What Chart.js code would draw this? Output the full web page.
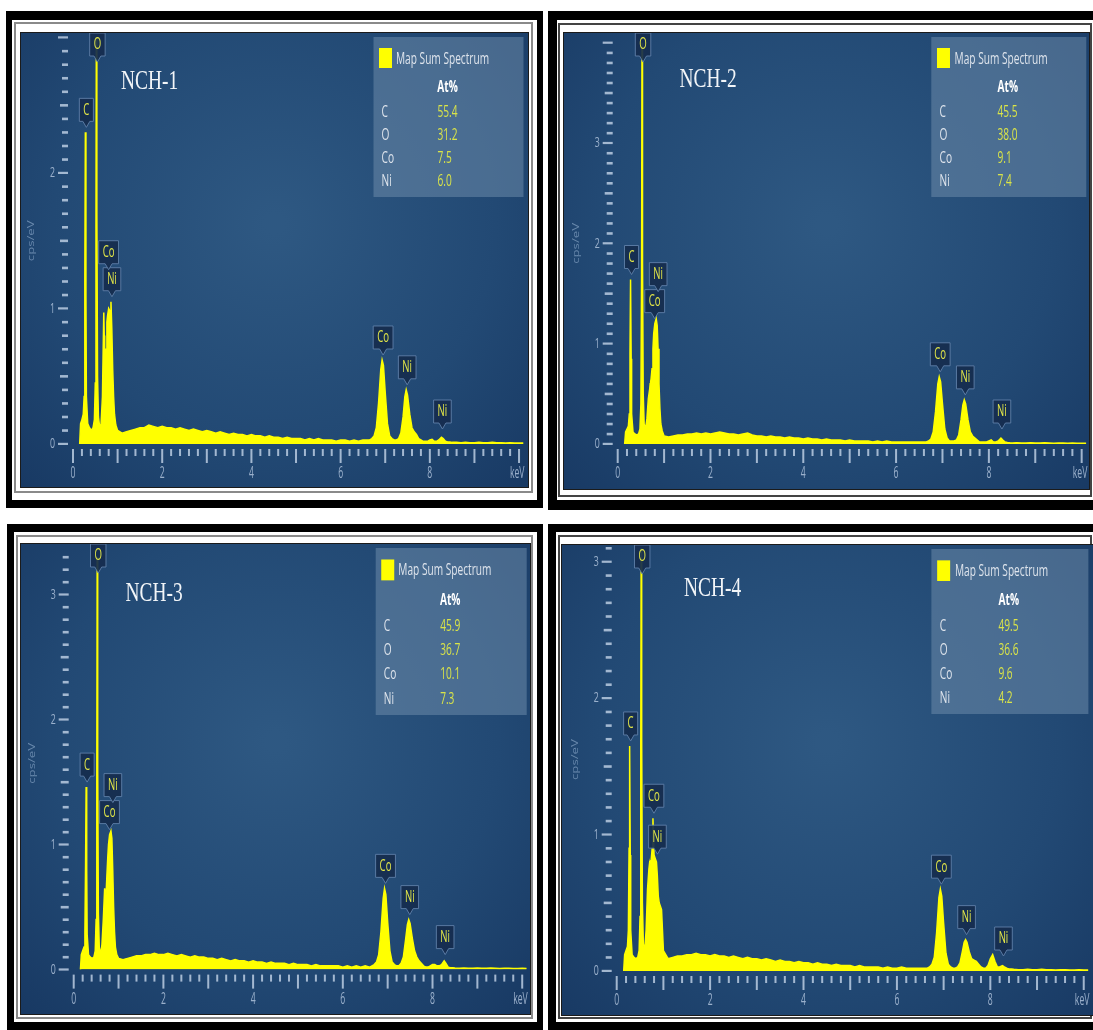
<!DOCTYPE html>
<html>
<head>
<meta charset="utf-8">
<script src="https://cdn.jsdelivr.net/npm/chart.js@4.4.1/dist/chart.umd.min.js"></script>
<style>
  html, body { margin: 0; padding: 0; background: #ffffff; }
  body { width: 1093px; height: 1030px; position: relative; overflow: hidden; }
  .blk { position: absolute; background: #000; }
  .wht { position: absolute; background: #fff; }
  .rule { position: absolute; box-sizing: border-box; border: 2px solid #8a8a8a; }
  .plot { position: absolute; outline: 1px solid #1b1b1b; }
  .plot canvas { display: block; }
</style>
</head>
<body>
<script>
// ---- EDS spectra: shared energy channels (keV) ----
const energyKeV = [
  0.15, 0.17, 0.20, 0.23, 0.25, 0.265, 0.277, 0.29, 0.30, 0.33, 0.37, 0.41, 0.45, 0.48, 0.50, 0.515, 0.525, 0.535, 0.55,
  0.57, 0.60, 0.63, 0.66, 0.69, 0.70, 0.71, 0.72, 0.74, 0.76, 0.776, 0.80, 0.83, 0.851, 0.87, 0.89, 0.91, 0.93, 0.96,
  1.0, 1.1, 1.2, 1.3, 1.4, 1.5, 1.6, 1.7, 1.8, 1.9,
  2.0, 2.1, 2.2, 2.3, 2.4, 2.5, 2.6, 2.7, 2.8, 2.9,
  3.0, 3.1, 3.2, 3.3, 3.4, 3.5, 3.6, 3.7, 3.8, 3.9,
  4.0, 4.1, 4.2, 4.3, 4.4, 4.5, 4.6, 4.7, 4.8, 4.9,
  5.0, 5.1, 5.2, 5.3, 5.4, 5.5, 5.6, 5.7, 5.8, 5.9,
  6.0, 6.1, 6.2, 6.3, 6.4, 6.5, 6.6,
  6.65, 6.70, 6.75, 6.80, 6.85, 6.90, 6.93, 6.96, 7.00, 7.05,
  7.10, 7.15, 7.20, 7.25, 7.30, 7.35, 7.40, 7.44, 7.47, 7.50,
  7.55, 7.60, 7.65, 7.70, 7.75, 7.80, 7.85, 7.90, 7.95, 8.00,
  8.05, 8.10, 8.15, 8.20, 8.26, 8.30, 8.35, 8.40, 8.45,
  8.5, 8.6, 8.7, 8.8, 8.9, 9.0, 9.1, 9.2, 9.3, 9.4, 9.5, 9.6, 9.7, 9.8, 9.9, 10.0, 10.1
];

// counts (cps/eV) per sample, same channel order as energyKeV
const countsNCH1 = [
  0, 0.15, 0.18, 0.22, 0.35, 1.2, 2.3, 1.1, 0.35, 0.15, 0.12, 0.10, 0.12, 0.18, 0.45, 1.6, 3.3, 1.7, 0.5,
  0.2, 0.12, 0.15, 0.35, 0.97, 0.8, 0.55, 0.45, 0.7, 0.9, 0.95, 1.0, 0.98, 1.05, 0.85, 0.55, 0.35, 0.22, 0.14,
  0.10, 0.08, 0.09, 0.10, 0.11, 0.12, 0.12, 0.14, 0.13, 0.12,
  0.13, 0.12, 0.12, 0.11, 0.12, 0.11, 0.10, 0.11, 0.10, 0.09,
  0.10, 0.09, 0.08, 0.09, 0.08, 0.07, 0.08, 0.07, 0.07, 0.06,
  0.07, 0.06, 0.06, 0.05, 0.06, 0.05, 0.05, 0.04, 0.05, 0.04,
  0.04, 0.04, 0.03, 0.04, 0.03, 0.04, 0.03, 0.03, 0.03, 0.02,
  0.03, 0.03, 0.02, 0.03, 0.02, 0.03, 0.03,
  0.03, 0.04, 0.06, 0.12, 0.30, 0.55, 0.62, 0.58, 0.38, 0.15,
  0.06, 0.04, 0.03, 0.03, 0.04, 0.08, 0.20, 0.35, 0.40, 0.36,
  0.22, 0.12, 0.09, 0.07, 0.04, 0.03, 0.02, 0.02, 0.02, 0.03,
  0.035, 0.02, 0.02, 0.03, 0.05, 0.04, 0.02, 0.015, 0.015,
  0.012, 0.012, 0.01, 0.012, 0.01, 0.01, 0.012, 0.01, 0.01, 0.012, 0.01, 0.01, 0.008, 0.01, 0.008, 0.008, 0.008
];
const countsNCH2 = [
  0, 0.12, 0.15, 0.18, 0.3, 0.9, 1.64, 0.85, 0.3, 0.12, 0.1, 0.09, 0.1, 0.15, 0.4, 1.7, 4.4, 1.8, 0.5,
  0.2, 0.15, 0.25, 0.45, 0.55, 0.6, 0.62, 0.65, 0.75, 0.95, 1.1, 1.2, 1.25, 1.18, 0.95, 0.6, 0.35, 0.2, 0.13,
  0.08, 0.07, 0.08, 0.09, 0.09, 0.10, 0.10, 0.11, 0.10, 0.11,
  0.10, 0.11, 0.12, 0.11, 0.10, 0.10, 0.09, 0.10, 0.11, 0.09,
  0.08, 0.08, 0.07, 0.08, 0.07, 0.07, 0.06, 0.07, 0.06, 0.06,
  0.05, 0.06, 0.05, 0.05, 0.04, 0.05, 0.04, 0.04, 0.04, 0.03,
  0.04, 0.03, 0.03, 0.03, 0.03, 0.02, 0.03, 0.02, 0.03, 0.02,
  0.02, 0.02, 0.02, 0.02, 0.02, 0.02, 0.02,
  0.02, 0.03, 0.05, 0.12, 0.32, 0.60, 0.67, 0.62, 0.40, 0.15,
  0.06, 0.03, 0.03, 0.03, 0.04, 0.09, 0.24, 0.39, 0.44, 0.40,
  0.24, 0.12, 0.08, 0.06, 0.04, 0.02, 0.02, 0.02, 0.02, 0.03,
  0.04, 0.02, 0.02, 0.03, 0.06, 0.04, 0.02, 0.015, 0.012,
  0.01, 0.012, 0.01, 0.01, 0.012, 0.01, 0.01, 0.012, 0.01, 0.008, 0.01, 0.01, 0.008, 0.01, 0.008, 0.008, 0.008
];
const countsNCH3 = [
  0, 0.12, 0.15, 0.18, 0.3, 0.85, 1.46, 0.8, 0.28, 0.12, 0.1, 0.09, 0.1, 0.15, 0.4, 1.5, 3.6, 1.6, 0.45,
  0.18, 0.12, 0.2, 0.4, 0.65, 0.6, 0.5, 0.55, 0.75, 0.9, 1.0, 1.08, 1.11, 1.05, 0.8, 0.5, 0.3, 0.18, 0.12,
  0.09, 0.08, 0.09, 0.10, 0.11, 0.11, 0.12, 0.12, 0.13, 0.12,
  0.12, 0.13, 0.12, 0.11, 0.12, 0.11, 0.10, 0.11, 0.10, 0.10,
  0.09, 0.09, 0.08, 0.09, 0.08, 0.07, 0.08, 0.07, 0.07, 0.06,
  0.07, 0.06, 0.06, 0.05, 0.06, 0.05, 0.05, 0.05, 0.04, 0.05,
  0.04, 0.04, 0.04, 0.03, 0.04, 0.03, 0.03, 0.03, 0.03, 0.03,
  0.02, 0.03, 0.02, 0.03, 0.02, 0.03, 0.02,
  0.03, 0.04, 0.06, 0.12, 0.30, 0.57, 0.65, 0.60, 0.38, 0.15,
  0.06, 0.04, 0.03, 0.03, 0.05, 0.10, 0.24, 0.36, 0.40, 0.37,
  0.25, 0.15, 0.10, 0.07, 0.05, 0.03, 0.02, 0.02, 0.03, 0.04,
  0.04, 0.03, 0.03, 0.04, 0.07, 0.05, 0.02, 0.015, 0.015,
  0.012, 0.01, 0.012, 0.01, 0.01, 0.012, 0.01, 0.01, 0.012, 0.01, 0.008, 0.01, 0.01, 0.008, 0.008, 0.01, 0.008
];
const countsNCH4 = [
  0, 0.12, 0.15, 0.18, 0.3, 0.9, 1.65, 0.85, 0.3, 0.12, 0.1, 0.09, 0.1, 0.15, 0.4, 1.6, 3.4, 1.7, 0.5,
  0.2, 0.15, 0.3, 0.6, 0.75, 0.78, 0.75, 0.8, 0.82, 0.9, 1.12, 0.85, 0.82, 0.8, 0.7, 0.55, 0.5, 0.48, 0.45,
  0.15, 0.09, 0.10, 0.11, 0.11, 0.12, 0.12, 0.13, 0.12, 0.12,
  0.11, 0.12, 0.11, 0.11, 0.10, 0.11, 0.10, 0.09, 0.10, 0.09,
  0.09, 0.08, 0.09, 0.08, 0.07, 0.08, 0.07, 0.07, 0.06, 0.07,
  0.06, 0.06, 0.05, 0.06, 0.05, 0.05, 0.04, 0.05, 0.04, 0.04,
  0.04, 0.03, 0.04, 0.03, 0.03, 0.03, 0.03, 0.02, 0.03, 0.02,
  0.02, 0.03, 0.02, 0.02, 0.02, 0.02, 0.02,
  0.02, 0.03, 0.05, 0.10, 0.28, 0.54, 0.60, 0.55, 0.35, 0.13,
  0.05, 0.03, 0.02, 0.02, 0.03, 0.06, 0.14, 0.21, 0.23, 0.21,
  0.14, 0.09, 0.08, 0.07, 0.05, 0.03, 0.02, 0.02, 0.04, 0.09,
  0.12, 0.07, 0.03, 0.03, 0.04, 0.03, 0.02, 0.015, 0.015,
  0.012, 0.01, 0.01, 0.012, 0.01, 0.01, 0.012, 0.01, 0.01, 0.008, 0.01, 0.01, 0.008, 0.008, 0.01, 0.008, 0.008
];

// sample names and quantification table (At%)
const sampleNames = ['NCH-1', 'NCH-2', 'NCH-3', 'NCH-4'];
const elementNames = ['C', 'O', 'Co', 'Ni'];
const atPctNCH1 = [55.4, 31.2, 7.5, 6.0];
const atPctNCH2 = [45.5, 38.0, 9.1, 7.4];
const atPctNCH3 = [45.9, 36.7, 10.1, 7.3];
const atPctNCH4 = [49.5, 36.6, 9.6, 4.2];

// identified emission lines
const lineNames = ['C', 'O', 'Co', 'Ni', 'Co', 'Ni', 'Ni'];
const lineEnergies = [0.277, 0.525, 0.776, 0.851, 6.93, 7.47, 8.26];

// axis text
const xTickValues = [0, 2, 4, 6, 8];
const xUnit = 'keV';
const yUnit = 'cps/eV';
const legendTitle = 'Map Sum Spectrum';
const legendHeader = 'At%';

// ---- page layout of the four framed panels ----
const panels = [
  { title: sampleNames[0], counts: countsNCH1, atPct: atPctNCH1, yMax: 3.0,
    outer: [6, 11, 537, 497], inner: [12, 20, 525, 480], rule: [14, 22, 519, 471], ruleColor: '#8a8a8a',
    plot: [21, 33, 507, 454], pad: { left: 52, right: 4.5, top: 4.5, bottom: 43 },
    titlePos: [100, 56], legendSize: [150, 160], labelOrder: [0, 1, 3, 2, 4, 5, 6] },
  { title: sampleNames[1], counts: countsNCH2, atPct: atPctNCH2, yMax: 4.0,
    outer: [548, 11, 560, 499], inner: [557, 20, 550, 480], rule: [558, 23, 534, 474], ruleColor: '#444444',
    plot: [564, 33, 525, 456], pad: { left: 53.7, right: 2.7, top: 9.8, bottom: 45 },
    titlePos: [115.6, 54], legendSize: [155, 160], labelOrder: [0, 1, 2, 3, 4, 5, 6] },
  { title: sampleNames[2], counts: countsNCH3, atPct: atPctNCH3, yMax: 3.3,
    outer: [7, 524, 536, 510], inner: [14, 532, 523, 490], rule: [16, 535, 517, 484], ruleColor: '#8a8a8a',
    plot: [21, 544, 509, 470], pad: { left: 52.7, right: 3.3, top: 13.1, bottom: 44.4 },
    titlePos: [104.6, 57], legendSize: [151, 167], labelOrder: [0, 1, 2, 3, 4, 5, 6] },
  { title: sampleNames[3], counts: countsNCH4, atPct: atPctNCH4, yMax: 3.1,
    outer: [548, 524, 560, 510], inner: [556, 532, 550, 490], rule: [558, 535, 534, 484], ruleColor: '#444444',
    plot: [562, 545, 531, 470], pad: { left: 54.7, right: 4.6, top: 3.2, bottom: 44 },
    titlePos: [122, 51], legendSize: [157, 165], labelOrder: [0, 1, 3, 2, 4, 5, 6] }
];

const SPEC_YELLOW = '#ffff00';
const AXIS_TEXT = 'rgba(176,195,220,0.85)';
const TICK_COLOR = 'rgba(196,212,232,0.8)';

function box(cls, r, extra) {
  const d = document.createElement('div');
  d.className = cls;
  d.style.left = r[0] + 'px'; d.style.top = r[1] + 'px';
  d.style.width = r[2] + 'px'; d.style.height = r[3] + 'px';
  if (extra) Object.assign(d.style, extra);
  document.body.appendChild(d);
  return d;
}

function drawText(ctx, txt, x, y, o) {
  ctx.save();
  ctx.translate(x, y);
  if (o.rotate) ctx.rotate(o.rotate);
  ctx.scale(o.sx || 1, o.sy || 1);
  ctx.font = o.font;
  ctx.fillStyle = o.color;
  ctx.textAlign = o.align || 'left';
  ctx.textBaseline = o.baseline || 'middle';
  ctx.fillText(txt, 0, 0);
  ctx.restore();
}

function windowMax(E, counts) {
  let m = 0;
  energyKeV.forEach((e, i) => { if (Math.abs(e - E) <= 0.0501 && counts[i] > m) m = counts[i]; });
  return m;
}

function makeDecor(p) {
  return {
    id: 'edsDecor',
    beforeDraw(chart) {
      const ctx = chart.ctx, W = chart.width, H = chart.height;
      const g = ctx.createRadialGradient(W * 0.5, H * 0.42, 10, W * 0.5, H * 0.42, W * 0.78);
      g.addColorStop(0, 'rgb(46,88,130)');
      g.addColorStop(0.55, 'rgb(34,73,116)');
      g.addColorStop(1, 'rgb(22,54,96)');
      ctx.save();
      ctx.fillStyle = g;
      ctx.fillRect(0, 0, W, H);
      ctx.restore();
    },
    afterDatasetsDraw(chart) {
      const ctx = chart.ctx;
      const xs = chart.scales.x, ys = chart.scales.y, area = chart.chartArea;
      const L = area.left, R = area.right;
      const y0 = ys.getPixelForValue(0);
      ctx.save();

      // y ticks: minor every 0.1, longer at 0.5 and integers
      ctx.fillStyle = TICK_COLOR;
      const nY = Math.round(p.yMax * 10);
      for (let k = 0; k <= nY; k++) {
        const py = ys.getPixelForValue(k / 10);
        const x1 = k % 10 === 0 ? L - 15 : (k % 5 === 0 ? L - 13 : L - 11);
        ctx.fillRect(x1, py - 1.2, (L - 5) - x1, k % 10 === 0 ? 2.2 : 2.6);
        if (k % 10 === 0 && k / 10 <= p.yMax - 0.05) {
          drawText(ctx, String(k / 10), L - 18, py, { font: '11px "Open Sans"', color: AXIS_TEXT, sx: 0.8, sy: 1.35, align: 'right' });
        }
      }
      // y title
      drawText(ctx, yUnit, L - 41.5, (area.top + area.bottom) / 2,
        { font: '11px "Open Sans"', color: 'rgba(150,178,210,0.6)', rotate: -Math.PI / 2, sx: 1.2, sy: 0.85, align: 'center' });

      // x ticks every 0.2 keV, longer at whole keV
      ctx.fillStyle = TICK_COLOR;
      for (let k = 0; k <= 50; k++) {
        const px = xs.getPixelForValue(k / 5);
        const len = k % 5 === 0 ? 14 : 7;
        ctx.fillRect(px - 1, y0 + 5, 2, len);
      }
      xTickValues.forEach(v => {
        drawText(ctx, String(v), xs.getPixelForValue(v), y0 + 30, { font: '12px "Open Sans"', color: AXIS_TEXT, sx: 0.72, sy: 1.3, align: 'center' });
      });
      drawText(ctx, xUnit, R + 1, y0 + 30, { font: '12px "Open Sans"', color: AXIS_TEXT, sx: 0.72, sy: 1.3, align: 'right' });

      // sample name
      drawText(ctx, p.title, p.titlePos[0], p.titlePos[1],
        { font: '20px "Liberation Serif"', color: '#f2f5f8', sx: 0.97, sy: 1.36, baseline: 'alphabetic' });

      // quantification box
      const lw = p.legendSize[0], lh = p.legendSize[1];
      const bx = R - lw, by = 4, fx = lw / 150, fy = lh / 160;
      ctx.fillStyle = 'rgba(108,138,170,0.55)';
      ctx.fillRect(bx, by, lw, lh);
      ctx.fillStyle = SPEC_YELLOW;
      ctx.fillRect(bx + 5.5 * fx, by + 11 * fy, 13, 20 * fy);
      const lf = { font: '13px "Open Sans"', color: 'rgb(222,228,236)', sx: 0.78, sy: 1.22 };
      drawText(ctx, legendTitle, bx + 22.5 * fx, by + 22 * fy, lf);
      drawText(ctx, legendHeader, bx + 74 * fx, by + 50 * fy,
        { font: 'bold 13px "Open Sans"', color: '#ffffff', sx: 0.78, sy: 1.22, align: 'center' });
      elementNames.forEach((el, i) => {
        const ry = by + (75 + 23.3 * i) * fy;
        drawText(ctx, el, bx + 8 * fx, ry, lf);
        drawText(ctx, p.atPct[i].toFixed(1), bx + 64 * fx, ry,
          { font: '13px "Open Sans"', color: 'rgb(218,228,72)', sx: 0.78, sy: 1.22 });
      });

      // peak identification tags
      const labelFont = '12px "Open Sans"';
      const bodyH = 23, ptr = 6;
      const placed = [];
      p.labelOrder.forEach(idx => {
        const name = lineNames[idx], E = lineEnergies[idx];
        ctx.font = labelFont;
        const tw = ctx.measureText(name).width * 0.8;
        const w = Math.max(13, tw + 8);
        const cx = xs.getPixelForValue(E) + 1;
        let tip = ys.getPixelForValue(windowMax(E, p.counts)) - 5;
        tip = Math.min(tip, y0 - 15);
        tip = Math.max(tip, bodyH + ptr);
        for (let guard = 0; guard < 10; guard++) {
          let moved = false;
          placed.forEach(b => {
            if (Math.abs(b.cx - cx) < (b.w + w) / 2 && tip > b.top + 2 && tip - ptr - bodyH < b.tip) {
              tip = b.top + 2; moved = true;
            }
          });
          if (!moved) break;
        }
        const l = cx - w / 2, r = cx + w / 2, b = tip - ptr, t = b - bodyH;
        ctx.beginPath();
        ctx.moveTo(l, t); ctx.lineTo(r, t); ctx.lineTo(r, b);
        ctx.lineTo(cx + 3.5, b); ctx.lineTo(cx, tip); ctx.lineTo(cx - 3.5, b);
        ctx.lineTo(l, b); ctx.closePath();
        ctx.fillStyle = 'rgba(22,44,78,0.92)';
        ctx.fill();
        ctx.strokeStyle = 'rgba(95,128,168,0.9)';
        ctx.lineWidth = 1;
        ctx.stroke();
        drawText(ctx, name, cx, t + bodyH / 2 + 0.5,
          { font: labelFont, color: 'rgb(226,230,72)', sx: 0.8, sy: 1.3, align: 'center' });
        placed.push({ cx, w, top: t, tip });
      });
      ctx.restore();
    }
  };
}

panels.forEach(p => {
  box('blk', p.outer);
  box('wht', p.inner);
  box('rule', p.rule, { borderColor: p.ruleColor });
  const holder = box('plot', p.plot);
  const cv = document.createElement('canvas');
  cv.width = p.plot[2]; cv.height = p.plot[3];
  cv.style.width = p.plot[2] + 'px'; cv.style.height = p.plot[3] + 'px';
  holder.appendChild(cv);

  const points = energyKeV.map((e, i) => ({ x: e, y: p.counts[i] }));
  new Chart(cv, {
    type: 'line',
    data: {
      datasets: [{
        label: legendTitle,
        data: points,
        borderColor: SPEC_YELLOW,
        backgroundColor: SPEC_YELLOW,
        borderWidth: 1.5,
        pointRadius: 0,
        tension: 0,
        fill: 'origin'
      }]
    },
    options: {
      responsive: false,
      devicePixelRatio: 1,
      animation: false,
      events: [],
      layout: { padding: p.pad },
      plugins: { legend: { display: false }, tooltip: { enabled: false } },
      scales: {
        x: { type: 'linear', min: 0, max: 10.1, display: false },
        y: { type: 'linear', min: 0, max: p.yMax, display: false }
      }
    },
    plugins: [makeDecor(p)]
  });
});
</script>
</body>
</html>
